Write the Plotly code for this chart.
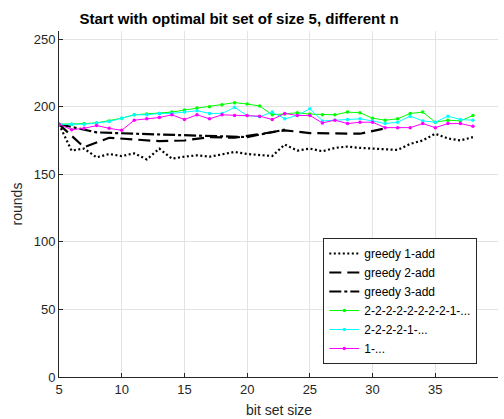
import plotly.graph_objects as go

# ---- data ----
n_all = list(range(5, 39))
greedy1 = [187, 167.5, 169, 162.5, 165, 163.5, 165.5, 161, 169, 161.5,
           163, 164, 163, 165, 166.5, 165, 164.5, 163.5, 172, 167.5,
           169, 167, 169.5, 170.5, 169.5, 169, 168.5, 168, 172.5, 175,
           180, 176.5, 175, 177.5]
n_g2 = list(range(5, 32, 2))
greedy2 = [187, 170, 177, 176, 174.5, 175, 177.5, 177, 180, 182.5,
           180.5, 180.5, 180, 184]
n_g3 = list(range(5, 24, 3))
greedy3 = [187, 181, 180, 179, 178.5, 177.5, 183]
seq_green = [187, 187, 187.5, 188, 189.5, 191.5, 194, 194.5, 195, 196,
             197.5, 199, 200, 201.5, 203, 202, 200.5, 194, 194.5, 195.5,
             194.5, 194, 194, 196, 195.5, 191.5, 190, 191, 195, 196,
             188.5, 190, 189.5, 193.5]
seq_cyan = [187, 187, 187, 188, 189, 191.5, 194, 194, 195, 195,
            196, 197, 195, 195, 199.5, 193.5, 192.5, 196, 191, 193.5,
            198.5, 189.5, 190, 190.5, 191, 189.5, 187.5, 188.5, 193, 189.5,
            188.5, 193, 190.5, 190]
seq_magenta = [187, 183, 184, 186, 184, 182.5, 190, 191, 192, 194,
               190.5, 194, 191, 194, 193.5, 193.5, 193, 190.5, 195, 193.5,
               193.5, 188, 190, 187.5, 188.5, 188.5, 184.5, 184.5, 184.5, 187.5,
               184.5, 187.5, 187.5, 185.5]
names = ["greedy 1-add", "greedy 2-add", "greedy 3-add",
         "2-2-2-2-2-2-2-2-1-...", "2-2-2-2-1-...", "1-..."]
x_ticks = [5, 10, 15, 20, 25, 30, 35, 40]
y_ticks = [0, 50, 100, 150, 200, 250]
x_label = "bit set size"
y_label = "rounds"
title_text = "Start with optimal bit set of size 5, different n"

FONT = "Liberation Sans, Arial, Helvetica, sans-serif"
TXT = "#262626"

fig = go.Figure()
fig.add_trace(go.Scatter(x=n_all, y=greedy1, name=names[0], mode="lines",
                         line=dict(color="black", width=2.2, dash="2px,2.5px")))
fig.add_trace(go.Scatter(x=n_g2, y=greedy2, name=names[1], mode="lines",
                         line=dict(color="black", width=2.2, dash="12px,6px")))
fig.add_trace(go.Scatter(x=n_g3, y=greedy3, name=names[2], mode="lines",
                         line=dict(color="black", width=2.2, dash="12px,3px,3px,3px")))
for ys, nm, col in [(seq_green, names[3], "#00ff00"),
                    (seq_cyan, names[4], "#00ffff"),
                    (seq_magenta, names[5], "#ff00ff")]:
    fig.add_trace(go.Scatter(x=n_all, y=ys, name=nm, mode="lines+markers",
                             line=dict(color=col, width=1),
                             marker=dict(color=col, size=3.5, symbol="circle")))

axis_common = dict(showline=True, linecolor=TXT, linewidth=1, mirror=False,
                   ticks="inside", ticklen=4, tickcolor=TXT, tickwidth=1,
                   showgrid=True, gridcolor="#e3e3e3", gridwidth=1,
                   zeroline=False, tickfont=dict(family=FONT, size=13, color=TXT))

fig.update_layout(
    width=504, height=419,
    margin=dict(l=59, r=6, t=31, b=42),
    paper_bgcolor="white", plot_bgcolor="white",
    font=dict(family=FONT, color=TXT),
    title=dict(text="<b>" + title_text + "</b>",
               font=dict(family=FONT, size=15, color="black"),
               x=239 / 504, xanchor="center", xref="container",
               y=1 - 18.5 / 419, yanchor="middle", yref="container"),
    xaxis=dict(range=[5, 40], tickvals=x_ticks, **axis_common),
    yaxis=dict(range=[0, 256], tickvals=y_ticks,
               title=dict(text=y_label, font=dict(family=FONT, size=14, color=TXT), standoff=7),
               **axis_common),
    showlegend=True,
    legend=dict(x=(322.7 - 59) / 438, y=(377 - 364) / 346, xanchor="left", yanchor="bottom",
                bgcolor="white", bordercolor=TXT, borderwidth=1,
                font=dict(family=FONT, size=12, color="black"),
                tracegroupgap=0),
    annotations=[dict(text=x_label, xref="paper", yref="paper", x=0.5, y=-(410 - 377) / 346,
                      xanchor="center", yanchor="middle", showarrow=False,
                      font=dict(family=FONT, size=14, color=TXT))],
)

fig.write_html("out.html", config={"displayModeBar": False},
               post_script="document.body.style.margin='0px';")
